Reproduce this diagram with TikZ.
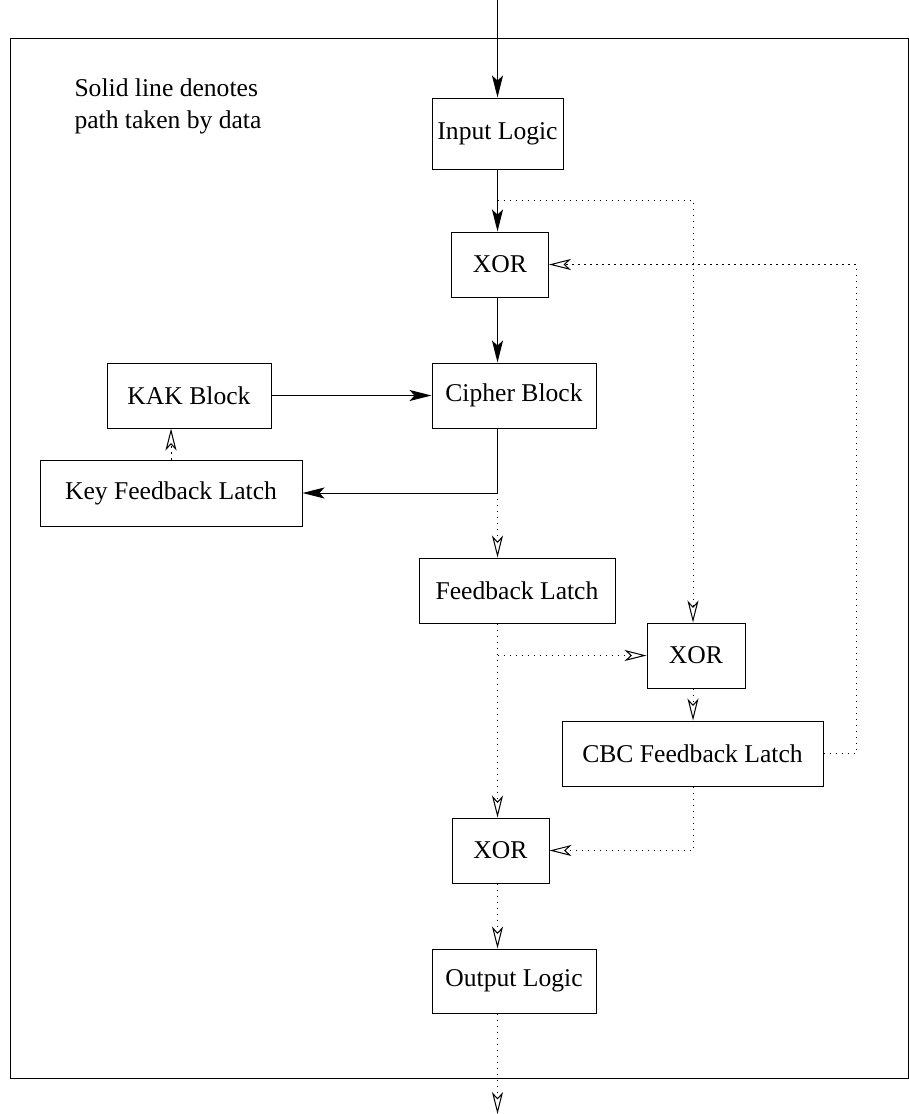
\documentclass[tikz,border=0pt]{standalone}
\usepackage{fontspec}
\setmainfont{Liberation Serif}
\usetikzlibrary{arrows.meta}
\begin{document}
\begin{tikzpicture}[x=0.5pt, y=-0.5pt, line width=0.5pt,
	blk/.style={draw, inner sep=0pt, font=\fontsize{12.8}{15}\selectfont},
	data/.style={-{Stealth[length=11pt, width=5.5pt, inset=2.5pt]}},
	ctrl/.style={dash pattern=on 0.6pt off 2.4pt, -{Stealth[open, length=11pt, width=5.5pt, inset=3pt]}}]
	\useasboundingbox (0,0) rectangle (909,1114);
	\draw  (10,38) rectangle (908,1078);
	
	\node[anchor=base west, align=left, inner sep=0pt, font=\fontsize{12.8}{16}\selectfont] (note) at (74,128) {Solid line denotes\\path taken by data};
	
	\node[blk, minimum width=65.5pt, minimum height=35.5pt] (inlogic) at (497.5,133.5) {Input Logic};
	\node[blk, minimum width=48.5pt, minimum height=32.5pt] (xora) at (500,264.5) {XOR};
	\node[blk, minimum width=82pt, minimum height=32.5pt] (cipher) at (514,395.5) {Cipher Block};
	\node[blk, minimum width=82pt, minimum height=32.5pt] (kak) at (189,395.5) {KAK Block};
	\node[blk, minimum width=131pt, minimum height=33pt] (keylatch) at (171,493) {Key Feedback Latch};
	\node[blk, minimum width=98pt, minimum height=32.5pt] (fblatch) at (517,590.5) {Feedback Latch};
	\node[blk, minimum width=49pt, minimum height=32.5pt] (xorb) at (696,655.5) {XOR};
	\node[blk, minimum width=130.5pt, minimum height=32.5pt] (cbclatch) at (692.5,753.5) {CBC Feedback Latch};
	\node[blk, minimum width=48.5pt, minimum height=32.5pt] (xorc) at (500.5,850.5) {XOR};
	\node[blk, minimum width=82pt, minimum height=32pt] (outlogic) at (514,981) {Output Logic};
	
	\coordinate (in) at (497.5,0);
	\coordinate (out) at (497.5,1114);
	\coordinate (splita) at (497.5,200);
	\coordinate (splitb) at (497.5,493);
	\coordinate (right) at (693,0);
	\coordinate (far) at (856,0);
	
	\draw[data] (in) -- (inlogic.north);
	\draw[data] (inlogic.south) -- (inlogic.south |- xora.north);
	\draw[data] (splitb |- xora.south) -- (splitb |- cipher.north);
	\draw[data] (kak.east) -- (cipher.west);
	\draw[data] (splitb |- cipher.south) -- (splitb) -- (keylatch.east);
	
	\draw[ctrl] (keylatch.north) -- (keylatch.north |- kak.south);
	\draw[ctrl] (splitb) -- (splitb |- fblatch.north);
	\draw[ctrl] (splita) -- (splita -| right) -- (right |- xorb.north);
	\draw[ctrl] (cbclatch.east) -- (cbclatch.east -| far) -- (far |- xora.east) -- (xora.east);
	\draw[ctrl] (splitb |- fblatch.south) -- (splitb |- xorc.north);
	\draw[ctrl] (splitb |- xorb.west) -- (xorb.west);
	\draw[ctrl] (right |- xorb.south) -- (right |- cbclatch.north);
	\draw[ctrl] (right |- cbclatch.south) -- (right |- xorc.east) -- (xorc.east);
	\draw[ctrl] (splitb |- xorc.south) -- (splitb |- outlogic.north);
	\draw[ctrl] (splitb |- outlogic.south) -- (out);
\end{tikzpicture}
\end{document}
